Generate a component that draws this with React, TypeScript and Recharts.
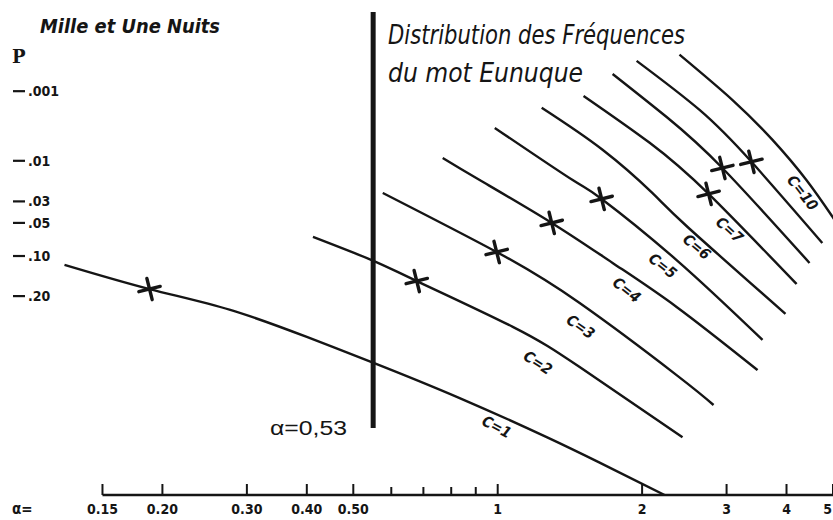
import React from "react";
import { ComposedChart, Line, Scatter, XAxis, YAxis, ReferenceLine } from "recharts";

// Mille et Une Nuits — distribution des fréquences du mot "Eunuque".

const alphaC1 = [0.125, 0.188, 0.277, 0.4, 0.546, 0.833, 1.265, 1.631, 2.228];
const pC1 = [0.118, 0.179, 0.245, 0.347, 0.453, 0.609, 0.76, 0.838, 0.91];

const alphaC2 = [0.412, 0.546, 0.678, 1.075, 1.482, 2.428];
const pC2 = [0.068, 0.108, 0.157, 0.307, 0.475, 0.76];

const alphaC3 = [0.576, 0.995, 1.482, 2.36, 2.818];
const pC3 = [0.0242, 0.0925, 0.222, 0.51, 0.638];

const alphaC4 = [0.768, 0.917, 1.296, 1.736, 2.36, 3.48];
const pC4 = [0.0092, 0.0172, 0.05, 0.114, 0.235, 0.488];

const alphaC5 = [0.986, 1.433, 1.647, 2.36, 3.565];
const pC5 = [0.0036, 0.0172, 0.0282, 0.108, 0.359];

const alphaC6 = [1.235, 1.654, 2.1, 2.488, 3.98];
const pC6 = [0.00182, 0.0072, 0.0242, 0.0548, 0.259];

const alphaC7 = [1.51, 2.074, 2.752, 4.198];
const pC7 = [0.00119, 0.0058, 0.0248, 0.165];

const alphaC8 = [1.736, 2.25, 2.94, 4.467];
const pC8 = [0.00052, 0.0025, 0.0123, 0.114];

const alphaC9 = [1.948, 2.635, 3.38, 4.75];
const pC9 = [0.00031, 0.00196, 0.0103, 0.0771];

const alphaC10 = [2.393, 3.087, 3.74, 4.4, 4.99, 5.4];
const pC10 = [0.00024, 0.00138, 0.0053, 0.0172, 0.0436, 0.074];

// observed points (asterisks)
const markerAlpha = [0.188, 0.678, 0.995, 1.296, 1.647, 2.752, 2.94, 3.38];
const markerP = [0.179, 0.157, 0.0925, 0.05, 0.0282, 0.0248, 0.0123, 0.0103];

// curve captions
const labelText = ["C=1", "C=2", "C=3", "C=4", "C=5", "C=6", "C=7", "C=10"];
const labelAlpha = [0.995, 1.212, 1.489, 1.857, 2.207, 2.598, 3.043, 4.32];
const labelP = [0.724, 0.457, 0.307, 0.182, 0.1206, 0.0837, 0.0585, 0.0242];
const labelAngles = [28, 33, 35, 38, 38, 40, 42, 52];

// axes
const xTicks = [0.15, 0.2, 0.3, 0.4, 0.5, 0.6, 0.7, 0.8, 0.9, 1, 2, 3, 4, 5];
const xTickLabels = ["0.15", "0.20", "0.30", "0.40", "0.50", "", "", "", "", "1", "2", "3", "4", "5"];
const pTicks = [0.001, 0.01, 0.03, 0.05, 0.1, 0.2];
const pTickLabels = [".001", ".01", ".03", ".05", ".10", ".20"];

const alphaDomain = [0.1166, 5];
const pDomain = [0.91, 0.0000215];
const alphaCut = 0.55; // alpha = 0,53 line
const cutP = [0.0000375, 0.728];
const axisFrom = 0.15;

const INK = "#151515";
const TICK_FONT = "'Liberation Sans Narrow', 'DejaVu Sans Condensed', 'Liberation Sans', sans-serif";
const HAND_FONT = "'Liberation Sans Narrow', 'DejaVu Sans Condensed', 'Liberation Sans', sans-serif";

// inverse normal CDF (Acklam), used as the probability-paper scale
function invNorm(p: number): number {
  const a = [-39.69683028665376, 220.9460984245205, -275.9285104469687, 138.357751867269, -30.66479806614716, 2.506628277459239];
  const b = [-54.47609879822406, 161.5858368580409, -155.6989798598866, 66.80131188771972, -13.28068155288572];
  const c = [-0.007784894002430293, -0.3223964580411365, -2.400758277161838, -2.549732539343734, 4.374664141464968, 2.938163982698783];
  const d = [0.007784695709041462, 0.3224671290700398, 2.445134137142996, 3.754408661907416];
  const lo = 0.02425;
  if (p < lo) {
    const q = Math.sqrt(-2 * Math.log(p));
    return (((((c[0] * q + c[1]) * q + c[2]) * q + c[3]) * q + c[4]) * q + c[5]) / ((((d[0] * q + d[1]) * q + d[2]) * q + d[3]) * q + 1);
  }
  if (p > 1 - lo) {
    const q = Math.sqrt(-2 * Math.log(1 - p));
    return -(((((c[0] * q + c[1]) * q + c[2]) * q + c[3]) * q + c[4]) * q + c[5]) / ((((d[0] * q + d[1]) * q + d[2]) * q + d[3]) * q + 1);
  }
  const q = p - 0.5;
  const r = q * q;
  return ((((((a[0] * r + a[1]) * r + a[2]) * r + a[3]) * r + a[4]) * r + a[5]) * q) / (((((b[0] * r + b[1]) * r + b[2]) * r + b[3]) * r + b[4]) * r + 1);
}
// small P at the top: plot the upper-tail quantile
const toZ = (p: number) => -invNorm(p);

const curveAlphas = [alphaC1, alphaC2, alphaC3, alphaC4, alphaC5, alphaC6, alphaC7, alphaC8, alphaC9, alphaC10];
const curveP = [pC1, pC2, pC3, pC4, pC5, pC6, pC7, pC8, pC9, pC10];
const curves = curveAlphas.map((xs, i) => xs.map((alpha, j) => ({ alpha, z: toZ(curveP[i][j]) })));
const markers = markerAlpha.map((alpha, i) => ({ alpha, z: toZ(markerP[i]) }));
const captions = labelText.map((name, i) => ({ name, alpha: labelAlpha[i], z: toZ(labelP[i]), angle: labelAngles[i] }));

function XTick(props: any) {
  const { x, y, payload } = props;
  const i = xTicks.indexOf(payload.value);
  const label = xTickLabels[i];
  const last = i === xTicks.length - 1;
  return (
    <g>
      <line x1={x} x2={x} y1={y} y2={y - (label ? 11 : 8)} stroke={INK} strokeWidth={2} />
      {label && (
        <text x={last ? x - 1 : x} y={y + 19} textAnchor={last ? "end" : "middle"} fontSize={14} fontWeight="bold" fill={INK} fontFamily={TICK_FONT}>
          {label}
        </text>
      )}
      {i === 0 && (
        <text x={12} y={y + 19} fontSize={15} fontWeight="bold" fill={INK} fontFamily={TICK_FONT}>
          α=
        </text>
      )}
    </g>
  );
}

function YTick(props: any) {
  const { y, payload } = props;
  const i = pTicks.findIndex((p) => Math.abs(toZ(p) - payload.value) < 1e-6);
  return (
    <g>
      <line x1={13} x2={25} y1={y} y2={y} stroke={INK} strokeWidth={2.2} />
      <text x={28} y={y + 5} fontSize={14} fontWeight="bold" fill={INK} fontFamily={TICK_FONT}>
        {pTickLabels[i]}
      </text>
    </g>
  );
}

function Asterisk(props: any) {
  const { cx, cy } = props;
  if (cx == null || cy == null) return null;
  return (
    <g transform={`translate(${cx} ${cy}) rotate(-14)`} stroke={INK} strokeWidth={3.4} strokeLinecap="round">
      <line x1={-11} y1={0} x2={11} y2={0} />
      <line x1={0} y1={-11} x2={0} y2={11} />
    </g>
  );
}

function Caption(props: any) {
  const { cx, cy, payload } = props;
  if (cx == null || cy == null) return null;
  return (
    <text
      x={cx}
      y={cy}
      transform={`rotate(${payload.angle} ${cx} ${cy})`}
      textAnchor="middle"
      dominantBaseline="central"
      fontSize={15}
      fontWeight="bold"
      fontStyle="italic"
      fill={INK}
      fontFamily={TICK_FONT}
    >
      {payload.name}
    </text>
  );
}

export default function App() {
  const zDomain = [toZ(pDomain[0]), toZ(pDomain[1])];
  const zTicks = pTicks.map(toZ);
  const zAxis = toZ(pDomain[0]);

  return (
    <div style={{ position: "absolute", left: 0, top: 0, width: 833, height: 520, background: "#fff" }}>
      <ComposedChart width={833} height={520} margin={{ top: 0, right: 0, bottom: 0, left: 0 }}>
        <XAxis
          dataKey="alpha"
          type="number"
          scale="log"
          domain={alphaDomain}
          allowDataOverflow
          ticks={xTicks}
          interval={0}
          tick={<XTick />}
          axisLine={false}
          tickLine={false}
          tickSize={0}
          tickMargin={0}
          height={25}
        />
        <YAxis
          dataKey="z"
          type="number"
          domain={zDomain}
          allowDataOverflow
          ticks={zTicks}
          interval={0}
          tick={<YTick />}
          axisLine={false}
          tickLine={false}
          tickSize={0}
          tickMargin={0}
          width={50}
        />

        {/* x axis baseline starts at alpha = 0.15 */}
        <ReferenceLine
          segment={[
            { x: axisFrom, y: zAxis },
            { x: alphaDomain[1], y: zAxis },
          ]}
          stroke={INK}
          strokeWidth={2.6}
          ifOverflow="visible"
        />

        {/* alpha = 0,53 */}
        <ReferenceLine
          segment={[
            { x: alphaCut, y: toZ(cutP[0]) },
            { x: alphaCut, y: toZ(cutP[1]) },
          ]}
          stroke={INK}
          strokeWidth={5}
          ifOverflow="visible"
        />

        {curves.map((data, i) => (
          <Line
            key={i}
            data={data}
            dataKey="z"
            type="natural"
            stroke={INK}
            strokeWidth={2.4}
            dot={false}
            activeDot={false}
            isAnimationActive={false}
          />
        ))}

        <Scatter data={markers} dataKey="z" shape={<Asterisk />} isAnimationActive={false} />
        <Scatter data={captions} dataKey="z" shape={<Caption />} isAnimationActive={false} />
      </ComposedChart>

      <svg width={833} height={520} style={{ position: "absolute", left: 0, top: 0, pointerEvents: "none" }}>
        <text x={40} y={33} fontSize={19} fontWeight="bold" fontStyle="italic" fill={INK} fontFamily={HAND_FONT} textLength={180} lengthAdjust="spacingAndGlyphs">
          Mille et Une Nuits
        </text>
        <text x={12} y={63} fontSize={18} fontWeight="bold" fill={INK} fontFamily="'DejaVu Serif', serif">
          P
        </text>
        <text x={388} y={44} fontSize={26} fontStyle="italic" fill={INK} fontFamily={HAND_FONT} textLength={297} lengthAdjust="spacingAndGlyphs">
          Distribution des Fréquences
        </text>
        <text x={388} y={82} fontSize={26} fontStyle="italic" fill={INK} fontFamily={HAND_FONT} textLength={195} lengthAdjust="spacingAndGlyphs">
          du mot Eunuque
        </text>
        <text x={270} y={435} fontSize={20} fill={INK} fontFamily="'Liberation Sans', sans-serif" textLength={77} lengthAdjust="spacingAndGlyphs">
          α=0,53
        </text>
      </svg>
    </div>
  );
}
